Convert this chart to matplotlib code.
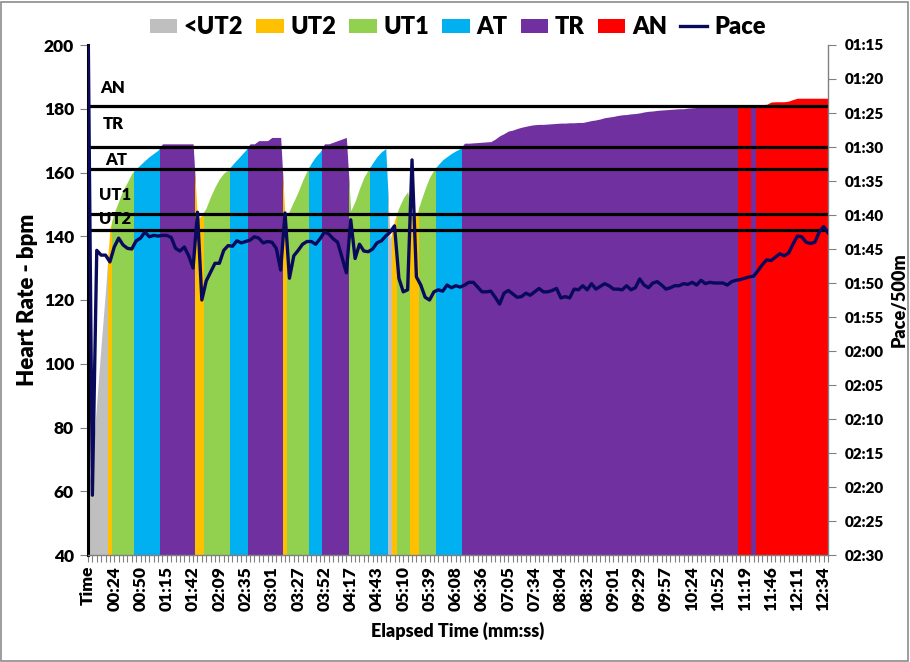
import matplotlib
matplotlib.use('Agg')
import matplotlib.pyplot as plt
import numpy as np
from matplotlib.patches import Rectangle, Patch
from matplotlib.lines import Line2D
from matplotlib.ticker import FixedLocator, MultipleLocator, FuncFormatter

plt.rcParams['font.family'] = ['Lato', 'DejaVu Sans']
W = 'heavy'
plt.rcParams['font.weight'] = W

# ---------------- data ----------------
x_labels = ["Time", "00:24", "00:50", "01:15", "01:42", "02:09", "02:35", "03:01",
            "03:27", "03:52", "04:17", "04:43", "05:10", "05:39", "06:08", "06:36",
            "07:05", "07:34", "08:04", "08:32", "09:01", "09:29", "09:57", "10:24",
            "10:52", "11:19", "11:46", "12:11", "12:34"]
label_step = 6

heart_rate = [
    60, 70, 88, 106, 123, 142.5, 147.5, 151, 154.5, 157,
    159.7, 161.2, 162.5, 163.8, 165, 166, 167, 169, 169, 169,
    169, 169, 169, 169, 169, 145.5, 146.5, 149, 152.5, 155.5,
    158, 159.8, 160.8, 162.5, 164, 165.5, 167, 169, 169, 170,
    170, 170, 171, 171, 171, 146, 148, 151, 154, 157.5,
    160.5, 163, 165, 166.5, 169, 169, 169.5, 170, 170.5, 171,
    148, 151, 155, 158.5, 160.8, 163, 165, 166.5, 167.5, 139,
    145, 149, 152, 154, 146, 146.5, 151, 155, 158.5, 160.8,
    162.5, 164, 165, 166, 166.8, 167.5, 169.2, 169.2, 169.3, 169.4,
    169.5, 169.6, 169.7, 170.5, 171.5, 172.2, 173, 173.3, 173.8, 174.2,
    174.5, 174.8, 175, 175.1, 175.1, 175.2, 175.3, 175.4, 175.5, 175.5,
    175.6, 175.6, 175.7, 175.7, 176, 176.3, 176.5, 176.8, 177.2, 177.4,
    177.6, 177.9, 178.1, 178.2, 178.4, 178.5, 178.7, 179, 179.2, 179.3,
    179.5, 179.6, 179.7, 179.8, 179.9, 180, 180, 180.2, 180.3, 180.4,
    180.5, 180.5, 180.5, 180.5, 180.5, 180.5, 180.5, 180.5, 180.5, 181.3,
    181.3, 181.3, 180.6, 181.3, 181.3, 181.4, 182.1, 182.2, 182.2, 182.2,
    182.4, 182.9, 183.3, 183.3, 183.3, 183.3, 183.3, 183.3, 183.3, 183.3,
]

# pace in seconds per 500 m
pace_sec = [
    70, 141.2, 105.2, 105.9, 105.9, 106.9, 104.7, 103.4, 104.4, 104.9,
    105.0, 103.8, 103.4, 102.5, 103.2, 103.0, 103.1, 103.0, 103.0, 103.3,
    104.9, 105.3, 104.7, 106.0, 107.8, 99.6, 112.5, 109.7, 108.4, 107.1,
    107.1, 105.2, 104.5, 104.6, 103.8, 104.1, 103.9, 103.7, 103.2, 103.4,
    104.1, 103.9, 104.0, 104.9, 108.1, 99.7, 109.3, 106.0, 105.2, 104.3,
    103.9, 103.9, 104.3, 103.5, 102.5, 102.8, 103.5, 104.0, 106.2, 108.5,
    100.7, 106.4, 104.3, 105.3, 105.4, 105.0, 104.1, 103.8, 103.1, 102.5,
    101.6, 109.3, 111.3, 111.0, 91.9, 109.1, 110.3, 112.1, 112.5, 111.3,
    111.0, 111.2, 110.3, 110.7, 110.4, 110.6, 110.3, 109.9, 109.9, 110.6,
    111.3, 111.3, 111.2, 112.1, 113.1, 111.5, 111.1, 111.6, 112.1, 112.0,
    111.5, 111.8, 111.3, 110.8, 111.3, 111.3, 111.1, 110.8, 112.2, 112.0,
    112.2, 110.9, 111.0, 110.4, 111.0, 110.1, 110.9, 110.5, 110.1, 110.4,
    110.9, 110.9, 111.0, 110.4, 111.0, 110.7, 109.4, 110.3, 110.7, 110.0,
    109.8, 110.3, 110.9, 110.7, 110.4, 110.4, 110.1, 110.2, 109.9, 110.3,
    109.6, 110.1, 109.9, 110.0, 110.0, 110.0, 110.3, 109.8, 109.6, 109.5,
    109.3, 109.1, 109.0, 108.2, 107.3, 106.6, 106.7, 106.2, 105.7, 106.0,
    105.6, 104.3, 103.1, 103.2, 104.0, 104.2, 104.0, 102.5, 101.7, 102.6,
]

zone_names = ["<UT2", "UT2", "UT1", "AT", "TR", "AN"]
zone_colors = ["#BFBFBF", "#FFC000", "#92D050", "#00B0F0", "#7030A0", "#FF0000"]
zone_floor = [0, 142, 147, 161, 168, 181]          # lower bound of each zone (bpm)
threshold_values = [181, 168, 161, 147, 142]
threshold_labels = ["AN", "TR", "AT", "UT1", "UT2"]
threshold_label_y = [186.5, 175.2, 163.9, 153.0, 145.4]
threshold_label_x = [5.7, 5.8, 6.5, 6.2, 6.2]

pace_color = "#0A0A5C"

# ---------------- figure ----------------
fig = plt.figure(figsize=(9.1, 6.62), dpi=100)
ax = fig.add_axes([88 / 910, 1 - 555 / 662, (828 - 88) / 910, (555 - 45) / 662])

hr = np.array(heart_rate, dtype=float)
xs = np.arange(len(hr))
zone_idx = np.searchsorted(zone_floor, hr, side='right') - 1

# contiguous runs of the same zone, each filled under the HR curve
start = 0
for i in range(1, len(hr) + 1):
    if i == len(hr) or zone_idx[i] != zone_idx[start]:
        z = zone_idx[start]
        poly = ax.fill_between(xs, 0, hr, color=zone_colors[z], lw=0, zorder=1)
        clip = Rectangle((start - 0.5, 40), (i - 1) - start + 1, 160,
                         transform=ax.transData)
        poly.set_clip_path(clip)
        start = i

for v in threshold_values:
    ax.axhline(v, color='black', lw=2.3, zorder=3)
for lab, lx, ly in zip(threshold_labels, threshold_label_x, threshold_label_y):
    ax.text(lx, ly, lab, fontsize=12, fontweight=W, ha='center', va='center',
            zorder=2)

ax.set_xlim(0, len(hr) - 1)
ax.set_ylim(40, 200)
ax.yaxis.set_major_locator(MultipleLocator(20))
major_pos = [i * label_step for i in range(len(x_labels))]
ax.xaxis.set_major_locator(FixedLocator(major_pos))
ax.set_xticklabels(x_labels, rotation=90, fontsize=12.5, fontweight=W)
ax.xaxis.set_minor_locator(MultipleLocator(1))
ax.tick_params(axis='x', which='both', direction='out', length=5, color='#808080',
               width=0.8, pad=3)
ax.tick_params(axis='y', direction='out', length=6, color='#808080', labelsize=12.5,
               pad=4)
for t in ax.get_yticklabels():
    t.set_fontweight(W)

ax.spines['top'].set_visible(False)
ax.spines['right'].set_visible(False)
ax.spines['left'].set_color('black')
ax.spines['left'].set_linewidth(2.2)
ax.spines['bottom'].set_color('#808080')
ax.spines['bottom'].set_linewidth(1)

ax.set_xlabel("Elapsed Time (mm:ss)", fontsize=13, fontweight=W, labelpad=8)
ax.set_ylabel("Heart Rate - bpm", fontsize=16, fontweight=W, labelpad=4)

ax2 = ax.twinx()
ax2.plot(xs, pace_sec, color=pace_color, lw=2.4, zorder=5, solid_joinstyle='round')
ax2.set_ylim(150, 75)
ax2.yaxis.set_major_locator(MultipleLocator(5))
ax2.yaxis.set_major_formatter(FuncFormatter(lambda v, p: f"{int(round(v)) // 60:02d}:{int(round(v)) % 60:02d}"))
ax2.tick_params(axis='y', direction='out', length=6, color='#808080', labelsize=11,
                pad=6)
for t in ax2.get_yticklabels():
    t.set_fontweight(W)
for s in ['top', 'left', 'bottom']:
    ax2.spines[s].set_visible(False)
ax2.spines['right'].set_color('#808080')
ax2.spines['right'].set_linewidth(1)
ax2.set_ylabel("Pace/500m", fontsize=13, fontweight=W, labelpad=5)

handles = [Patch(facecolor=c, edgecolor='none', label=n) for n, c in zip(zone_names, zone_colors)]
handles.append(Line2D([0], [0], color=pace_color, lw=2.4, label="Pace"))
leg = fig.legend(handles=handles, loc='center', bbox_to_anchor=(0.503, 0.959), ncol=7,
                 frameon=False, prop={'size': 17, 'weight': W},
                 handlelength=1.15, handleheight=0.55, handletextpad=0.3,
                 columnspacing=0.55)

fig.add_artist(Rectangle((0.001, 0.0015), 0.997, 0.996, transform=fig.transFigure,
                         fill=False, edgecolor='#8C8C8C', lw=1.2))

fig.savefig("out.png", dpi=100)
